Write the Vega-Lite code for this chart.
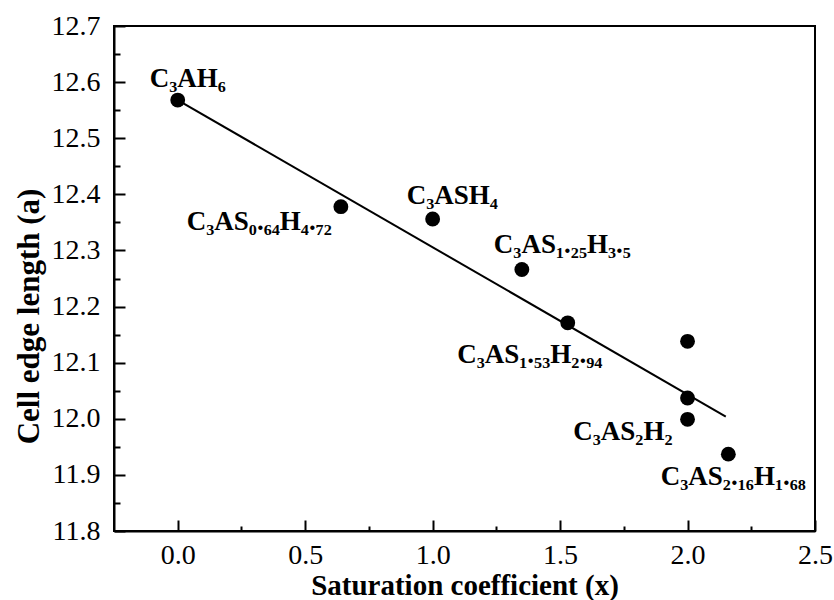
{
  "$schema": "https://vega.github.io/schema/vega-lite/v6.json",
  "width": 701,
  "height": 505,
  "autosize": "none",
  "padding": {"left": 114, "top": 26, "right": 19, "bottom": 69},
  "background": "white",
  "config": {
    "view": {"stroke": "black", "strokeWidth": 2},
    "font": "Liberation Serif"
  },
  "datasets": {
    "pts": [
      {"x": 0.0, "y": 12.568, "label": "C₃AH₆"},
      {"x": 0.64, "y": 12.378, "label": "C₃AS₀.₆₄H₄.₇₂"},
      {"x": 1.0, "y": 12.356, "label": "C₃ASH₄"},
      {"x": 1.35, "y": 12.266, "label": "C₃AS₁.₂₅H₃.₅"},
      {"x": 1.53, "y": 12.171, "label": "C₃AS₁.₅₃H₂.₉₄"},
      {"x": 2.0, "y": 12.138, "label": ""},
      {"x": 2.0, "y": 12.037, "label": ""},
      {"x": 2.0, "y": 11.999, "label": "C₃AS₂H₂"},
      {"x": 2.16, "y": 11.937, "label": "C₃AS₂.₁₆H₁.₆₈"}
    ],
    "fit": [
      {"x": 0.0, "y": 12.568},
      {"x": 2.15, "y": 12.004}
    ]
  },
  "resolve": {"axis": {"x": "independent", "y": "independent"}},
  "layer": [
    {
      "data": {"name": "fit"},
      "mark": {"type": "line", "color": "black", "strokeWidth": 2},
      "encoding": {
        "x": {
          "field": "x", "type": "quantitative",
          "scale": {"domain": [-0.25, 2.5], "nice": false, "zero": false},
          "axis": {
            "orient": "bottom",
            "values": [0, 0.5, 1, 1.5, 2, 2.5], "format": ".1f",
            "tickSize": -11, "tickWidth": 2, "tickColor": "black",
            "labelFont": "Liberation Serif", "labelFontSize": 28, "labelFontWeight": "normal", "labelColor": "black",
            "labelPadding": 21, "labelFlush": false,
            "domainColor": "black", "domainWidth": 2, "grid": false,
            "title": "Saturation coefficient (x)",
            "titleFont": "Liberation Serif", "titleFontSize": 29, "titleFontWeight": "bold",
            "titleColor": "black", "titlePadding": 2
          }
        },
        "y": {
          "field": "y", "type": "quantitative",
          "scale": {"domain": [11.8, 12.7], "nice": false, "zero": false},
          "axis": {
            "orient": "left",
            "values": [11.8, 11.9, 12.0, 12.1, 12.2, 12.3, 12.4, 12.5, 12.6, 12.7], "format": ".1f",
            "tickSize": -11, "tickWidth": 2, "tickColor": "black",
            "labelFont": "Liberation Serif", "labelFontSize": 28, "labelFontWeight": "normal", "labelColor": "black",
            "labelPadding": 25, "labelFlush": false,
            "domainColor": "black", "domainWidth": 2, "grid": false,
            "title": "Cell edge length (a)",
            "titleFont": "Liberation Serif", "titleFontSize": 31, "titleFontWeight": "bold",
            "titleColor": "black", "titlePadding": 6, "titleY": 290
          }
        }
      }
    },
    {
      "data": {"name": "pts"},
      "mark": {"type": "circle", "color": "black", "opacity": 1, "size": 220},
      "encoding": {
        "x": {
          "field": "x", "type": "quantitative",
          "axis": {
            "orient": "bottom",
            "values": [0.25, 0.75, 1.25, 1.75, 2.25],
            "labels": false, "domain": false, "grid": false, "title": null,
            "tickSize": -5, "tickWidth": 2, "tickColor": "black"
          }
        },
        "y": {
          "field": "y", "type": "quantitative",
          "axis": {
            "orient": "left",
            "values": [11.85, 11.95, 12.05, 12.15, 12.25, 12.35, 12.45, 12.55, 12.65],
            "labels": false, "domain": false, "grid": false, "title": null,
            "tickSize": -6, "tickWidth": 2, "tickColor": "black"
          }
        }
      }
    },
    {
      "data": {"name": "pts"},
      "transform": [{"filter": "datum.label === 'C₃AH₆'"}],
      "mark": {"type": "text", "font": "Liberation Serif", "fontWeight": "bold", "fontSize": 27, "color": "black", "align": "center", "baseline": "middle", "dx": 10, "dy": -21},
      "encoding": {
        "x": {"field": "x", "type": "quantitative", "axis": null},
        "y": {"field": "y", "type": "quantitative", "axis": null},
        "text": {"field": "label"}
      }
    },
    {
      "data": {"name": "pts"},
      "transform": [{"filter": "datum.label === 'C₃AS₀.₆₄H₄.₇₂'"}],
      "mark": {"type": "text", "font": "Liberation Serif", "fontWeight": "bold", "fontSize": 27, "color": "black", "align": "right", "baseline": "middle", "dx": -9, "dy": 15},
      "encoding": {
        "x": {"field": "x", "type": "quantitative", "axis": null},
        "y": {"field": "y", "type": "quantitative", "axis": null},
        "text": {"field": "label"}
      }
    },
    {
      "data": {"name": "pts"},
      "transform": [{"filter": "datum.label === 'C₃ASH₄'"}],
      "mark": {"type": "text", "font": "Liberation Serif", "fontWeight": "bold", "fontSize": 27, "color": "black", "align": "left", "baseline": "middle", "dx": -26, "dy": -23},
      "encoding": {
        "x": {"field": "x", "type": "quantitative", "axis": null},
        "y": {"field": "y", "type": "quantitative", "axis": null},
        "text": {"field": "label"}
      }
    },
    {
      "data": {"name": "pts"},
      "transform": [{"filter": "datum.label === 'C₃AS₁.₂₅H₃.₅'"}],
      "mark": {"type": "text", "font": "Liberation Serif", "fontWeight": "bold", "fontSize": 27, "color": "black", "align": "left", "baseline": "middle", "dx": -28, "dy": -25},
      "encoding": {
        "x": {"field": "x", "type": "quantitative", "axis": null},
        "y": {"field": "y", "type": "quantitative", "axis": null},
        "text": {"field": "label"}
      }
    },
    {
      "data": {"name": "pts"},
      "transform": [{"filter": "datum.label === 'C₃AS₁.₅₃H₂.₉₄'"}],
      "mark": {"type": "text", "font": "Liberation Serif", "fontWeight": "bold", "fontSize": 27, "color": "black", "align": "center", "baseline": "middle", "dx": -38, "dy": 32},
      "encoding": {
        "x": {"field": "x", "type": "quantitative", "axis": null},
        "y": {"field": "y", "type": "quantitative", "axis": null},
        "text": {"field": "label"}
      }
    },
    {
      "data": {"name": "pts"},
      "transform": [{"filter": "datum.label === 'C₃AS₂H₂'"}],
      "mark": {"type": "text", "font": "Liberation Serif", "fontWeight": "bold", "fontSize": 27, "color": "black", "align": "right", "baseline": "middle", "dx": -15, "dy": 13},
      "encoding": {
        "x": {"field": "x", "type": "quantitative", "axis": null},
        "y": {"field": "y", "type": "quantitative", "axis": null},
        "text": {"field": "label"}
      }
    },
    {
      "data": {"name": "pts"},
      "transform": [{"filter": "datum.label === 'C₃AS₂.₁₆H₁.₆₈'"}],
      "mark": {"type": "text", "font": "Liberation Serif", "fontWeight": "bold", "fontSize": 27, "color": "black", "align": "center", "baseline": "middle", "dx": 5, "dy": 23},
      "encoding": {
        "x": {"field": "x", "type": "quantitative", "axis": null},
        "y": {"field": "y", "type": "quantitative", "axis": null},
        "text": {"field": "label"}
      }
    }
  ]
}
